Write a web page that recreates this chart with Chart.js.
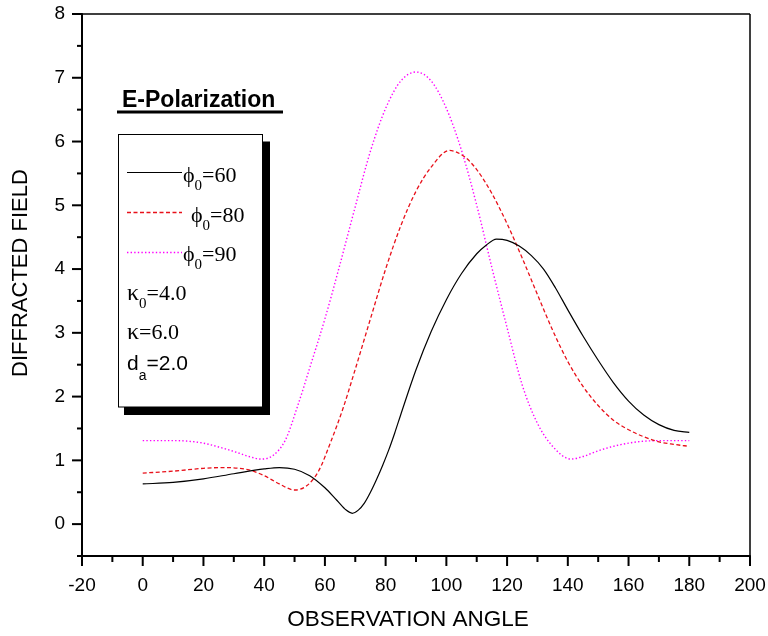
<!DOCTYPE html>
<html><head><meta charset="utf-8">
<script src="https://cdn.jsdelivr.net/npm/chart.js@4.4.0/dist/chart.umd.min.js"></script>
<style>html,body{margin:0;padding:0;background:#fff;}#wrap{width:768px;height:636px;}</style>
</head><body><div id="wrap"><canvas id="c" width="768" height="636"></canvas></div>
<script>
// ---- data ----
const xAxisTicks = [-20, 0, 20, 40, 60, 80, 100, 120, 140, 160, 180, 200];
const yAxisTicks = [0, 1, 2, 3, 4, 5, 6, 7, 8];
const xAxisTitle = 'OBSERVATION ANGLE';
const yAxisTitle = 'DIFFRACTED FIELD';
const panelTitle = 'E-Polarization';

const phi60Angles = [0, 10, 20, 30, 40, 45, 50, 55, 60, 64, 67, 69, 71, 73, 75, 77, 79, 81, 83, 85, 90, 95, 100, 105, 110, 113, 116.5, 120, 124, 128, 132, 136, 140, 145, 150, 155, 160, 165, 170, 175, 180];
const phi60Values = [0.63, 0.655, 0.71, 0.79, 0.865, 0.887, 0.86, 0.76, 0.57, 0.37, 0.22, 0.17, 0.22, 0.33, 0.50, 0.70, 0.92, 1.16, 1.43, 1.72, 2.42, 3.02, 3.52, 3.93, 4.24, 4.37, 4.47, 4.45, 4.36, 4.21, 4.00, 3.70, 3.36, 2.95, 2.57, 2.22, 1.93, 1.71, 1.56, 1.47, 1.44];

const phi80Angles = [0, 10, 20, 27, 35, 40, 45, 50, 54, 58, 62, 66, 70, 75, 80, 85, 90, 95, 101, 106, 110, 115, 120, 125, 130, 135, 140, 145, 150, 155, 160, 165, 170, 175, 180];
const phi80Values = [0.80, 0.83, 0.875, 0.887, 0.85, 0.76, 0.63, 0.535, 0.60, 0.84, 1.30, 1.82, 2.43, 3.22, 4.0, 4.68, 5.22, 5.60, 5.86, 5.76, 5.56, 5.185, 4.71, 4.17, 3.60, 3.04, 2.55, 2.16, 1.86, 1.63, 1.48, 1.37, 1.29, 1.25, 1.22];

const phi90Angles = [0, 10, 15, 20, 25, 30, 35, 39, 43, 47, 51, 55, 60, 65, 70, 75, 80, 85, 90, 95, 100, 105, 110, 115, 120, 125, 130, 135, 141, 145, 150, 155, 160, 165, 172, 180];
const phi90Values = [1.31, 1.31, 1.30, 1.27, 1.21, 1.14, 1.06, 1.02, 1.08, 1.32, 1.85, 2.45, 3.22, 4.08, 4.98, 5.85, 6.52, 6.95, 7.09, 6.95, 6.52, 5.86, 5.00, 4.02, 3.08, 2.18, 1.58, 1.22, 1.02, 1.06, 1.15, 1.22, 1.27, 1.30, 1.31, 1.31];

const seriesLabels = ['\u03D50=60', '\u03D50=80', '\u03D50=90'];
const paramLabels = ['\u03BA0=4.0', '\u03BA=6.0', 'da=2.0'];

// ---- chart ----
const toPts = (xs, ys) => xs.map((x, i) => ({x: x, y: ys[i]}));
const SANS = 'Liberation Sans, Arial, sans-serif';
const SERIF = 'Liberation Serif, Times New Roman, serif';

function rich(ctx, x, base, parts) {
  let cx = x;
  for (const p of parts) {
    ctx.font = p.font;
    ctx.fillText(p.t, cx, base + (p.dy || 0));
    cx += ctx.measureText(p.t).width;
  }
}

const framePlugin = {
  id: 'frame',
  afterDatasetsDraw(chart) {
    const ctx = chart.ctx;
    ctx.save();
    ctx.fillStyle = '#000';
    ctx.textBaseline = 'alphabetic';
    ctx.textAlign = 'left';
    ctx.font = 'bold 23px ' + SANS;
    ctx.fillText(panelTitle, 122, 107);
    ctx.fillRect(117, 110.5, 166, 3);
    // shadow + box
    ctx.fillRect(124, 141.5, 146, 273.5);
    ctx.fillStyle = '#fff';
    ctx.fillRect(118, 134, 144, 273);
    ctx.strokeStyle = '#000';
    ctx.lineWidth = 1;
    ctx.strokeRect(118.5, 134.5, 144, 272.5);
    // legend samples
    const ds = chart.data.datasets;
    const ys = [172.5, 212.5, 252.5];
    for (let i = 0; i < 3; i++) {
      ctx.beginPath();
      ctx.strokeStyle = ds[i].borderColor;
      ctx.lineWidth = ds[i].borderWidth;
      ctx.setLineDash(ds[i].borderDash || []);
      ctx.moveTo(127, ys[i]);
      ctx.lineTo(182, ys[i]);
      ctx.stroke();
    }
    ctx.setLineDash([]);
    ctx.fillStyle = '#000';
    const big = '22px ' + SERIF, small = '15px ' + SERIF;
    const sx = [183, 191, 183];
    const sb = [181.5, 221.5, 260.5];
    for (let i = 0; i < 3; i++) {
      const L = seriesLabels[i];
      rich(ctx, sx[i], sb[i], [{t: L[0], font: big}, {t: L[1], font: small, dy: 8.5}, {t: L.slice(2), font: big}]);
    }
    const k0 = paramLabels[0];
    rich(ctx, 127, 300, [{t: k0[0], font: '24px ' + SERIF}, {t: k0[1], font: small, dy: 8}, {t: k0.slice(2), font: big}]);
    const k1 = paramLabels[1];
    rich(ctx, 127, 338.5, [{t: k1[0], font: '24px ' + SERIF}, {t: k1.slice(1), font: big}]);
    const da = paramLabels[2];
    rich(ctx, 127, 370, [{t: da[0], font: '21px ' + SANS}, {t: da[1], font: '14px ' + SANS, dy: 9.5}, {t: da.slice(2), font: '21px ' + SANS}]);
    ctx.restore();
  },
  afterDraw(chart) {
    const ctx = chart.ctx;
    const {left, right, top, bottom} = chart.chartArea;
    const xs = chart.scales.x, ysc = chart.scales.y;
    ctx.save();
    ctx.fillStyle = '#000';
    ctx.fillRect(left, top - 0.75, right - left, 1.5);
    ctx.fillRect(right - 0.75, top, 1.5, bottom - top);
    ctx.fillRect(left - 1, top - 0.75, 2, bottom - top + 1.75);
    ctx.fillRect(left - 1, bottom - 1, right - left + 1.75, 2);
    for (let v = -20; v <= 200; v += 10) {
      const p = xs.getPixelForValue(v);
      const len = (v % 20 === 0) ? 10 : 6;
      ctx.fillRect(p - 1, bottom, 2, len);
    }
    for (let k = -1; k <= 16; k++) {
      const v = k / 2;
      const p = ysc.getPixelForValue(v);
      const len = (k % 2 === 0) ? 10 : 5;
      ctx.fillRect(left - len, p - 1, len, 2);
    }
    ctx.font = '22.5px ' + SANS;
    ctx.textAlign = 'center';
    ctx.textBaseline = 'middle';
    ctx.fillText(xAxisTitle, 408, 620);
    ctx.translate(20.5, 273);
    ctx.rotate(-Math.PI / 2);
    ctx.font = '22px ' + SANS;
    ctx.fillText(yAxisTitle, 0, 0);
    ctx.restore();
  }
};

new Chart(document.getElementById('c').getContext('2d'), {
  type: 'line',
  data: {
    datasets: [
      {label: seriesLabels[0], data: toPts(phi60Angles, phi60Values), borderColor: '#000000', borderWidth: 1.2, pointRadius: 0, fill: false, cubicInterpolationMode: 'monotone'},
      {label: seriesLabels[1], data: toPts(phi80Angles, phi80Values), borderColor: '#e8101a', borderWidth: 1.3, borderDash: [4, 2.5], pointRadius: 0, fill: false, cubicInterpolationMode: 'monotone'},
      {label: seriesLabels[2], data: toPts(phi90Angles, phi90Values), borderColor: '#ff00ff', borderWidth: 1.4, borderDash: [1.4, 2.2], pointRadius: 0, fill: false, cubicInterpolationMode: 'monotone'}
    ]
  },
  options: {
    responsive: false,
    animation: false,
    devicePixelRatio: 1,
    layout: {padding: {top: 14, right: 18, left: 0, bottom: 0}},
    plugins: {legend: {display: false}, tooltip: {enabled: false}},
    scales: {
      x: {
        type: 'linear', min: -20, max: 200, position: 'bottom',
        afterBuildTicks: s => { s.ticks = xAxisTicks.map(v => ({value: v})); },
        afterFit: s => { s.height = 80; s.paddingLeft = 0; s.paddingRight = 0; },
        ticks: {autoSkip: false, maxRotation: 0, color: '#000', padding: 8, font: {family: SANS, size: 19}},
        grid: {display: true, drawOnChartArea: false, color: 'rgba(0,0,0,0)', tickLength: 10},
        border: {display: false}
      },
      y: {
        type: 'linear', min: -0.5, max: 8, position: 'left',
        afterBuildTicks: s => { s.ticks = yAxisTicks.map(v => ({value: v})); },
        afterFit: s => { s.width = 82; s.paddingTop = 0; s.paddingBottom = 0; },
        ticks: {autoSkip: false, color: '#000', padding: 7, font: {family: SANS, size: 19}},
        grid: {display: true, drawOnChartArea: false, color: 'rgba(0,0,0,0)', tickLength: 10},
        border: {display: false}
      }
    }
  },
  plugins: [framePlugin]
});
</script>
</body></html>
